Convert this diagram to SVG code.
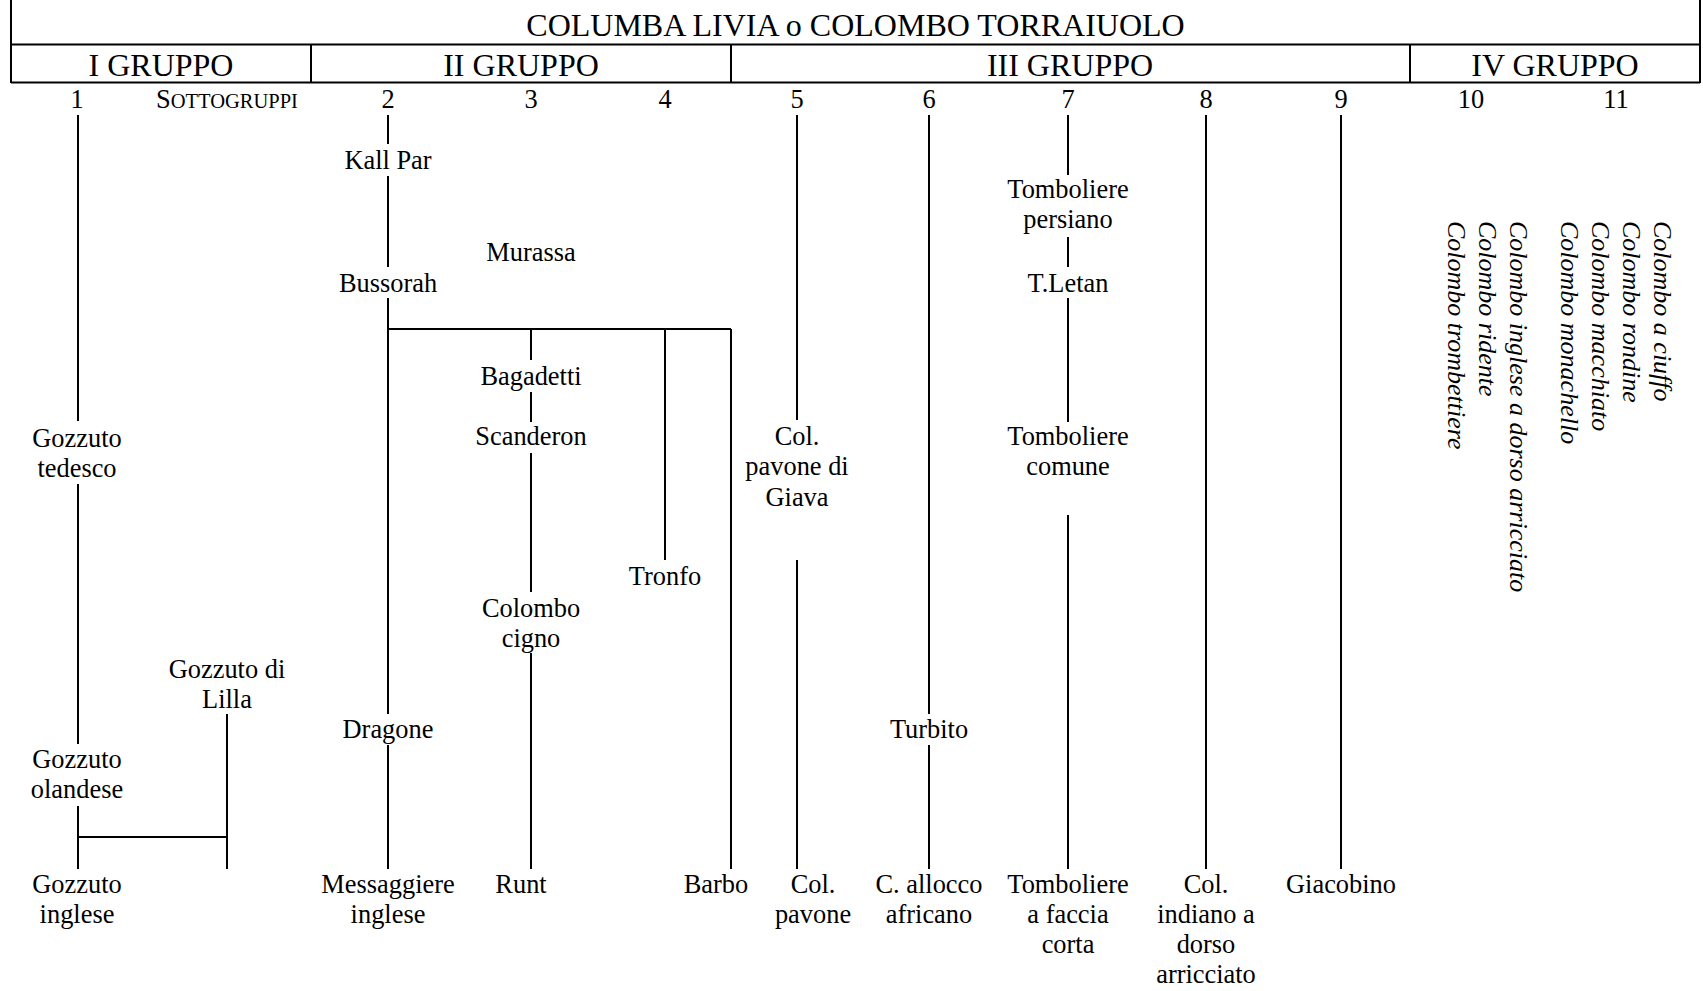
<svg xmlns="http://www.w3.org/2000/svg" width="1703" height="991" viewBox="0 0 1703 991">
<style>
.t{font-family:"Liberation Serif","Times New Roman",serif;font-size:26.4px;fill:#000;text-anchor:middle}
.h{font-family:"Liberation Serif","Times New Roman",serif;font-size:32px;fill:#000;text-anchor:middle}
.v{font-family:"Liberation Serif","Times New Roman",serif;font-size:26px;font-style:italic;fill:#000}
.ln{stroke:#000;stroke-width:2;fill:none}
</style>
<rect width="1703" height="991" fill="#fff"/>
<g id="header">
<path class="ln" d="M11 0V83M1700 0V83M11 44.5H1700M11 82.5H1700M311 44.5V82.5M731 44.5V82.5M1410 44.5V82.5"/>
<text class="h" x="855.5" y="36">COLUMBA LIVIA o COLOMBO TORRAIUOLO</text>
<text class="h" x="161" y="76">I GRUPPO</text>
<text class="h" x="521" y="76">II GRUPPO</text>
<text class="h" x="1070" y="76">III GRUPPO</text>
<text class="h" x="1555" y="76">IV GRUPPO</text>
</g>
<g id="numbers">
<text class="t" x="77" y="108">1</text>
<text class="t" x="227" y="108">S<tspan font-size="20.5">OTTOGRUPPI</tspan></text>
<text class="t" x="388" y="108">2</text>
<text class="t" x="531" y="108">3</text>
<text class="t" x="665" y="108">4</text>
<text class="t" x="797" y="108">5</text>
<text class="t" x="929" y="108">6</text>
<text class="t" x="1068" y="108">7</text>
<text class="t" x="1206" y="108">8</text>
<text class="t" x="1341" y="108">9</text>
<text class="t" x="1471" y="108">10</text>
<text class="t" x="1616" y="108">11</text>
</g>
<g id="connectors">
<path class="ln" d="M78 115V421M78 484V744M78 806V869M78 837H227M227 714V869"/>
<path class="ln" d="M388 115V144M388 176V267M388 298V714M388 745V869M388 329H731"/>
<path class="ln" d="M531 329V360M531 392V422M531 453V592M531 653V869"/>
<path class="ln" d="M665 329V560M731 329V869"/>
<path class="ln" d="M797 115V420M797 560V869"/>
<path class="ln" d="M929 115V714M929 745V869"/>
<path class="ln" d="M1068 115V175M1068 237V267M1068 298V422M1068 515V869"/>
<path class="ln" d="M1206 115V869M1341 115V869"/>
</g>
<g id="gozzuto-tedesco"><text class="t" x="77" y="447">Gozzuto</text><text class="t" x="77" y="477">tedesco</text></g>
<g id="gozzuto-lilla"><text class="t" x="227" y="678">Gozzuto di</text><text class="t" x="227" y="708">Lilla</text></g>
<g id="gozzuto-olandese"><text class="t" x="77" y="768">Gozzuto</text><text class="t" x="77" y="798">olandese</text></g>
<g id="gozzuto-inglese"><text class="t" x="77" y="893">Gozzuto</text><text class="t" x="77" y="923">inglese</text></g>
<g id="kall-par"><text class="t" x="388" y="169">Kall Par</text></g>
<g id="bussorah"><text class="t" x="388" y="292">Bussorah</text></g>
<g id="murassa"><text class="t" x="531" y="261">Murassa</text></g>
<g id="bagadetti"><text class="t" x="531" y="385">Bagadetti</text></g>
<g id="scanderon"><text class="t" x="531" y="445">Scanderon</text></g>
<g id="tronfo"><text class="t" x="665" y="585">Tronfo</text></g>
<g id="colombo-cigno"><text class="t" x="531" y="617">Colombo</text><text class="t" x="531" y="647">cigno</text></g>
<g id="dragone"><text class="t" x="388" y="738">Dragone</text></g>
<g id="messaggiere"><text class="t" x="388" y="893">Messaggiere</text><text class="t" x="388" y="923">inglese</text></g>
<g id="runt"><text class="t" x="521" y="893">Runt</text></g>
<g id="barbo"><text class="t" x="716" y="893">Barbo</text></g>
<g id="pavone-giava"><text class="t" x="797" y="445">Col.</text><text class="t" x="797" y="475">pavone di</text><text class="t" x="797" y="506">Giava</text></g>
<g id="col-pavone"><text class="t" x="813" y="893">Col.</text><text class="t" x="813" y="923">pavone</text></g>
<g id="turbito"><text class="t" x="929" y="738">Turbito</text></g>
<g id="allocco"><text class="t" x="929" y="893">C. allocco</text><text class="t" x="929" y="923">africano</text></g>
<g id="tomb-persiano"><text class="t" x="1068" y="198">Tomboliere</text><text class="t" x="1068" y="228">persiano</text></g>
<g id="t-letan"><text class="t" x="1068" y="292">T.Letan</text></g>
<g id="tomb-comune"><text class="t" x="1068" y="445">Tomboliere</text><text class="t" x="1068" y="475">comune</text></g>
<g id="tomb-faccia"><text class="t" x="1068" y="893">Tomboliere</text><text class="t" x="1068" y="923">a faccia</text><text class="t" x="1068" y="953">corta</text></g>
<g id="col-indiano"><text class="t" x="1206" y="893">Col.</text><text class="t" x="1206" y="923">indiano a</text><text class="t" x="1206" y="953">dorso</text><text class="t" x="1206" y="983">arricciato</text></g>
<g id="giacobino"><text class="t" x="1341" y="893">Giacobino</text></g>
<g id="gruppo-10">
<text class="v" transform="translate(1510 221) rotate(90)">Colombo inglese a dorso arricciato</text>
<text class="v" transform="translate(1479 221) rotate(90)">Colombo ridente</text>
<text class="v" transform="translate(1448 221) rotate(90)">Colombo trombettiere</text>
</g>
<g id="gruppo-11">
<text class="v" transform="translate(1654 221) rotate(90)">Colombo a ciuffo</text>
<text class="v" transform="translate(1623 221) rotate(90)">Colombo rondine</text>
<text class="v" transform="translate(1592 221) rotate(90)">Colombo macchiato</text>
<text class="v" transform="translate(1561 221) rotate(90)">Colombo monachello</text>
</g>
</svg>
